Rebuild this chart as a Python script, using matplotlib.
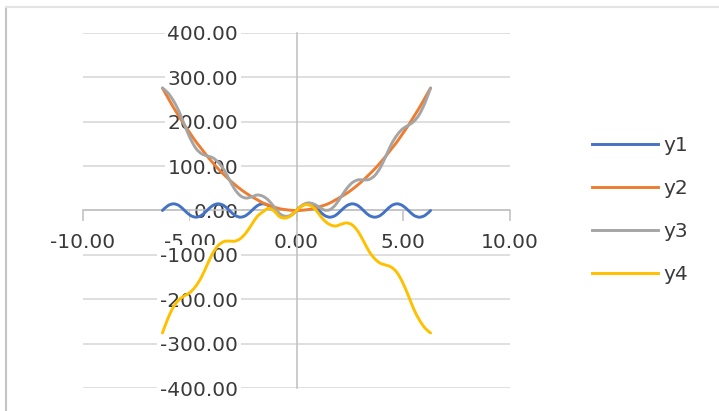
import matplotlib
matplotlib.use("Agg")
import matplotlib.pyplot as plt
from matplotlib.path import Path
from matplotlib.patches import PathPatch
from matplotlib.lines import Line2D
from matplotlib.ticker import FuncFormatter
import numpy as np

# ---- data -------------------------------------------------------------
x = [-6.28, -6.02, -5.76, -5.50, -5.24, -4.97, -4.71, -4.45, -4.19, -3.93,
     -3.67, -3.40, -3.14, -2.88, -2.62, -2.36, -2.09, -1.83, -1.57, -1.31,
     -1.05, -0.79, -0.52, -0.26, 0.00, 0.26, 0.52, 0.79, 1.05, 1.31,
     1.57, 1.83, 2.09, 2.36, 2.62, 2.88, 3.14, 3.40, 3.67, 3.93,
     4.19, 4.45, 4.71, 4.97, 5.24, 5.50, 5.76, 6.02, 6.28]

y1 = [0, 11, 15, 11, 0, -11, -15, -11, 0, 11, 15, 11, 0, -11, -15, -11,
      0, 11, 15, 11, 0, -11, -15, -11, 0, 11, 15, 11, 0, -11, -15, -11,
      0, 11, 15, 11, 0, -11, -15, -11, 0, 11, 15, 11, 0, -11, -15, -11, 0]

y2 = [276, 254, 232, 212, 192, 173, 155, 139, 123, 108, 94, 81, 69, 58, 48,
      39, 31, 24, 17, 12, 8, 4, 2, 0.5, 0, 0.5, 2, 4, 8, 12, 17, 24, 31, 39,
      48, 58, 69, 81, 94, 108, 123, 139, 155, 173, 192, 212, 232, 254, 276]

y3 = [276, 265, 247, 223, 192, 162, 140, 128, 123, 119, 109, 92, 69, 47, 33,
      28, 31, 35, 32, 23, 8, -7, -13, -10.5, 0, 11.5, 17, 15, 8, 1, 2, 13,
      31, 50, 63, 69, 69, 70, 79, 97, 123, 150, 170, 184, 192, 201, 217, 243,
      276]

y4 = [-276, -243, -217, -201, -192, -184, -170, -150, -123, -97, -79, -70,
      -69, -69, -63, -50, -31, -13, -3, 5, -1, -14, -17, -11.5, 0, 10.5, 13,
      7, -8, -23, -32, -35, -31, -28, -33, -47, -69, -92, -109, -119, -123,
      -128, -140, -162, -192, -223, -247, -265, -276]

series_names = ["y1", "y2", "y3", "y4"]
series_values = [y1, y2, y3, y4]
series_colors = ["#4472C4", "#ED7D31", "#A5A5A5", "#FFC000"]

x_ticks = [-10, -5, 0, 5, 10]
y_ticks = [-400, -300, -200, -100, 0, 100, 200, 300, 400]


def smooth_path(xs, ys):
    """Cubic Bezier path through every point (Catmull-Rom style smoothing)."""
    pts = np.column_stack([xs, ys]).astype(float)
    n = len(pts)
    verts = [pts[0]]
    codes = [Path.MOVETO]
    for i in range(n - 1):
        p0 = pts[i - 1] if i > 0 else pts[i]
        p1 = pts[i]
        p2 = pts[i + 1]
        p3 = pts[i + 2] if i + 2 < n else pts[i + 1]
        c1 = p1 + (p2 - p0) / 6.0
        c2 = p2 - (p3 - p1) / 6.0
        verts.extend([c1, c2, p2])
        codes.extend([Path.CURVE4] * 3)
    return Path(verts, codes)


two_dec = FuncFormatter(lambda v, pos: "%.2f" % v)

W, H = 719, 411
fig = plt.figure(figsize=(W / 100, H / 100), dpi=100)
fig.patch.set_facecolor("white")

# chart-area frame (top and left edges visible)
fig.add_artist(Line2D([5.5 / W, 5.5 / W], [0, 1 - 7 / H], transform=fig.transFigure,
                      color="#c4c4c4", lw=1.5))
fig.add_artist(Line2D([5.5 / W, 1], [1 - 7 / H, 1 - 7 / H], transform=fig.transFigure,
                      color="#e3e3e3", lw=1.5))

ax = fig.add_axes([83 / W, 23 / H, 427 / W, 355 / H])
ax.set_xlim(-10, 10)
ax.set_ylim(-400, 400)
ax.set_facecolor("none")

for s in ["top", "right"]:
    ax.spines[s].set_visible(False)
ax.spines["left"].set_position(("data", 0))
ax.spines["bottom"].set_position(("data", 0))
for s in ["left", "bottom"]:
    ax.spines[s].set_color("#bfbfbf")
    ax.spines[s].set_linewidth(1.1)
    ax.spines[s].set_zorder(1)

ax.set_axisbelow(True)
ax.set_xticks(x_ticks)
ax.set_yticks(y_ticks)
ax.xaxis.set_major_formatter(two_dec)
ax.yaxis.set_major_formatter(two_dec)
ax.yaxis.grid(True, color="#d9d9d9", lw=1.2)
ax.tick_params(axis="x", direction="out", length=8, width=1.1, color="#bfbfbf",
               pad=8.5, labelsize=14.5, labelcolor="#3a3a3a")
ax.tick_params(axis="y", direction="out", length=0, pad=42,
               labelsize=14.5, labelcolor="#3a3a3a")
for lab in ax.get_yticklabels():
    lab.set_bbox(dict(facecolor="white", edgecolor="none", pad=2))

handles = []
for name, vals, col in zip(series_names, series_values, series_colors):
    patch = PathPatch(smooth_path(x, vals), fill=False, edgecolor=col, lw=2.1,
                      capstyle="round", joinstyle="round", zorder=3)
    ax.add_patch(patch)
    handles.append(Line2D([], [], color=col, lw=2.1, label=name))

fig.legend(handles=handles, loc="center left",
           bbox_to_anchor=(592 / W, 1 - 210 / H), frameon=False,
           fontsize=14.5, handlelength=3.3, handletextpad=0.25,
           labelspacing=1.18, borderpad=0, borderaxespad=0,
           labelcolor="#3a3a3a")

fig.savefig("out.png", dpi=100, facecolor="white")
